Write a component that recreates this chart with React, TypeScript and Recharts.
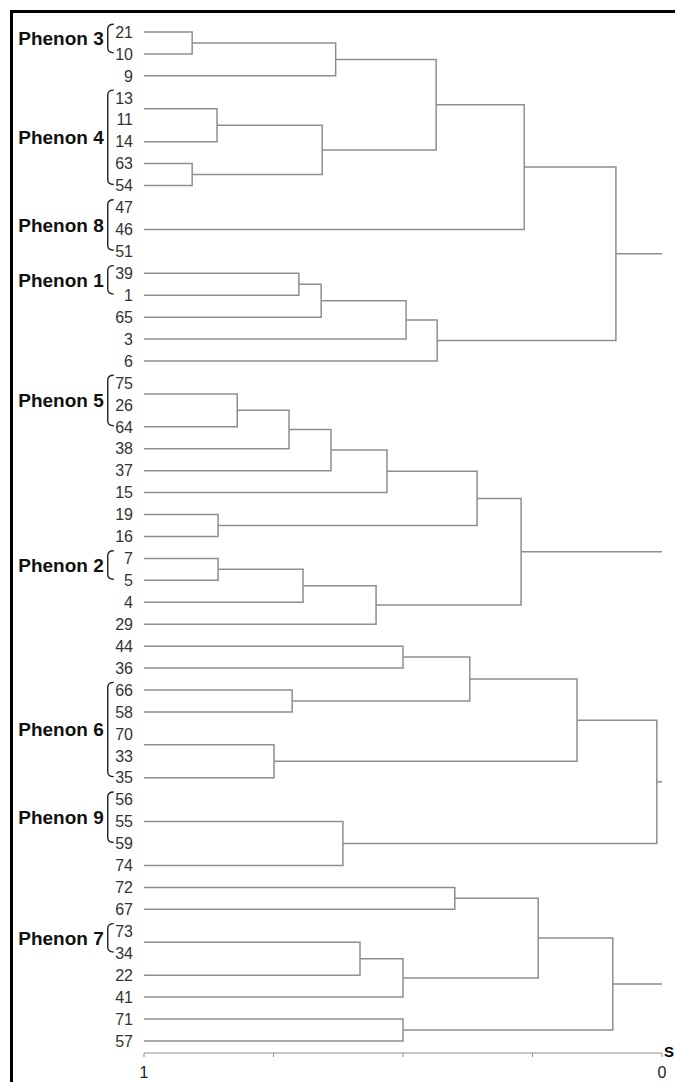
import { ComposedChart, Line, XAxis, YAxis, ReferenceLine } from "recharts";

const FONT = "'Liberation Sans', Arial, sans-serif";
const LINE = "#8e8e8e";

// OTU labels, top to bottom
const leafLabels = [
  "21", "10", "9", "13", "11", "14", "63", "54", "47", "46", "51",
  "39", "1", "65", "3", "6", "75", "26", "64", "38", "37", "15",
  "19", "16", "7", "5", "4", "29", "44", "36", "66", "58", "70",
  "33", "35", "56", "55", "59", "74", "72", "67", "73", "34", "22",
  "41", "71", "57",
];

// row of each drawn branch (identical OTUs share one branch)
const branchRows = [
  0, 1, 2, 3.5, 5, 6, 7, 9, 11, 12, 13, 14, 15, 16.5, 18, 19, 20, 21,
  22, 23, 24, 25, 26, 27, 28, 29, 30, 31, 32.5, 34, 36, 38, 39, 40,
  41.5, 43, 44, 45, 46,
];

// [left, right, similarity] ; bN = branch N, mN = merge N
const merges: [string, string, number][] = [
  ["b0", "b1", 0.907],
  ["m0", "b2", 0.63],
  ["b3", "b4", 0.859],
  ["b5", "b6", 0.907],
  ["m2", "m3", 0.656],
  ["m1", "m4", 0.436],
  ["m5", "b7", 0.266],
  ["b8", "b9", 0.701],
  ["m7", "b10", 0.658],
  ["m8", "b11", 0.494],
  ["m9", "b12", 0.434],
  ["m6", "m10", 0.089],
  ["b13", "b14", 0.82],
  ["m12", "b15", 0.72],
  ["m13", "b16", 0.639],
  ["m14", "b17", 0.531],
  ["b18", "b19", 0.857],
  ["m15", "m16", 0.357],
  ["b20", "b21", 0.857],
  ["m18", "b22", 0.693],
  ["m19", "b23", 0.552],
  ["m17", "m20", 0.272],
  ["b24", "b25", 0.5],
  ["b26", "b27", 0.714],
  ["m22", "m23", 0.371],
  ["b28", "b29", 0.749],
  ["m24", "m25", 0.164],
  ["b30", "b31", 0.616],
  ["m26", "m27", 0.01],
  ["b32", "b33", 0.4],
  ["b34", "b35", 0.583],
  ["m30", "b36", 0.5],
  ["m29", "m31", 0.239],
  ["b37", "b38", 0.5],
  ["m32", "m33", 0.095],
];

const roots = ["m11", "m21", "m28", "m34"];

const phenonNames = ["Phenon 3", "Phenon 4", "Phenon 8", "Phenon 1", "Phenon 5", "Phenon 2", "Phenon 6", "Phenon 9", "Phenon 7"];
const phenonFrom = [0, 3, 8, 11, 16, 24, 30, 35, 41];
const phenonTo = [1, 7, 10, 12, 18, 25, 34, 37, 42];

const xTicks = [0, 0.25, 0.5, 0.75, 1];

// build dendrogram elbows
type Pt = { x: number; y: number };
const nodes: Record<string, Pt> = {};
branchRows.forEach((r, i) => (nodes["b" + i] = { x: 1, y: r }));
const elbows: Pt[][] = merges.map(([a, b, h], i) => {
  const A = nodes[a];
  const B = nodes[b];
  nodes["m" + i] = { x: h, y: (A.y + B.y) / 2 };
  return [
    { x: A.x, y: A.y },
    { x: h, y: A.y },
    { x: h, y: B.y },
    { x: B.x, y: B.y },
  ];
});
const stems: Pt[][] = roots.map((id) => [
  { x: nodes[id].x, y: nodes[id].y },
  { x: 0, y: nodes[id].y },
]);

const LeafTick = (props: any) => (
  <text
    x={props.x}
    y={props.y}
    dy="0.36em"
    textAnchor="end"
    fill="#333"
    fontSize={16}
    fontFamily={FONT}
  >
    {leafLabels[props.payload.value]}
  </text>
);

const Bracket = (props: any) => {
  const { x1, y1, y2 } = props;
  const top = Math.min(y1, y2);
  const bot = Math.max(y1, y2);
  const w = 6;
  const r = 5;
  return (
    <path
      d={`M${x1 + w},${top} Q${x1},${top} ${x1},${top + r} L${x1},${bot - r} Q${x1},${bot} ${x1 + w},${bot}`}
      fill="none"
      stroke="#222"
      strokeWidth={1.4}
    />
  );
};

const EndLabel = (props: any) => {
  const vb = props.viewBox;
  return (
    <text
      x={vb.x + vb.width + 2}
      y={vb.y - 1}
      dy="0.36em"
      fill="#000"
      fontSize={15}
      fontWeight={700}
      fontFamily={FONT}
    >
      S
    </text>
  );
};

export default function App() {
  return (
    <div
      style={{
        position: "absolute",
        left: 0,
        top: 0,
        width: 675,
        height: 1082,
        background: "#fff",
        overflow: "hidden",
      }}
    >
      {/* frame */}
      <div
        style={{
          position: "absolute",
          left: 10,
          top: 10,
          width: 665,
          height: 1072,
          borderTop: "3px solid #000",
          borderLeft: "3px solid #000",
          boxSizing: "border-box",
        }}
      />
      <div style={{ position: "absolute", left: 0, top: 0 }}>
        <ComposedChart
          width={675}
          height={1082}
          margin={{ top: 32, right: 13, bottom: 0, left: 0 }}
        >
          <XAxis
            type="number"
            dataKey="x"
            domain={[0, 1]}
            reversed
            ticks={xTicks}
            interval={0}
            tickFormatter={(v: number) => (v === 0 || v === 1 ? String(v) : "")}
            height={29}
            tickSize={4}
            tickMargin={10}
            stroke={LINE}
            tick={{ fill: "#222", fontSize: 16, fontFamily: FONT }}
            label={<EndLabel />}
          />
          <YAxis
            type="number"
            dataKey="y"
            domain={[0, 46.55]}
            reversed
            ticks={leafLabels.map((_, i) => i)}
            interval={0}
            width={144}
            axisLine={false}
            tickLine={false}
            tickSize={0}
            tickMargin={11}
            tick={<LeafTick />}
          />
          {elbows.map((d, i) => (
            <Line
              key={"e" + i}
              data={d}
              dataKey="y"
              type="linear"
              stroke={LINE}
              strokeWidth={1.5}
              dot={false}
              activeDot={false}
              legendType="none"
              isAnimationActive={false}
            />
          ))}
          {stems.map((d, i) => (
            <Line
              key={"s" + i}
              data={d}
              dataKey="y"
              type="linear"
              stroke={LINE}
              strokeWidth={1.5}
              dot={false}
              activeDot={false}
              legendType="none"
              isAnimationActive={false}
            />
          ))}
          {phenonNames.map((name, i) => (
            <ReferenceLine
              key={name}
              segment={[
                { x: 1.07, y: phenonFrom[i] - 0.35 },
                { x: 1.07, y: phenonTo[i] - 0.05 },
              ]}
              ifOverflow="visible"
              stroke="#222"
              shape={<Bracket />}
              label={{
                value: name,
                position: "left",
                offset: 4,
                fill: "#111",
                fontSize: 19,
                fontWeight: 700,
                fontFamily: FONT,
              }}
            />
          ))}
        </ComposedChart>
      </div>
    </div>
  );
}
